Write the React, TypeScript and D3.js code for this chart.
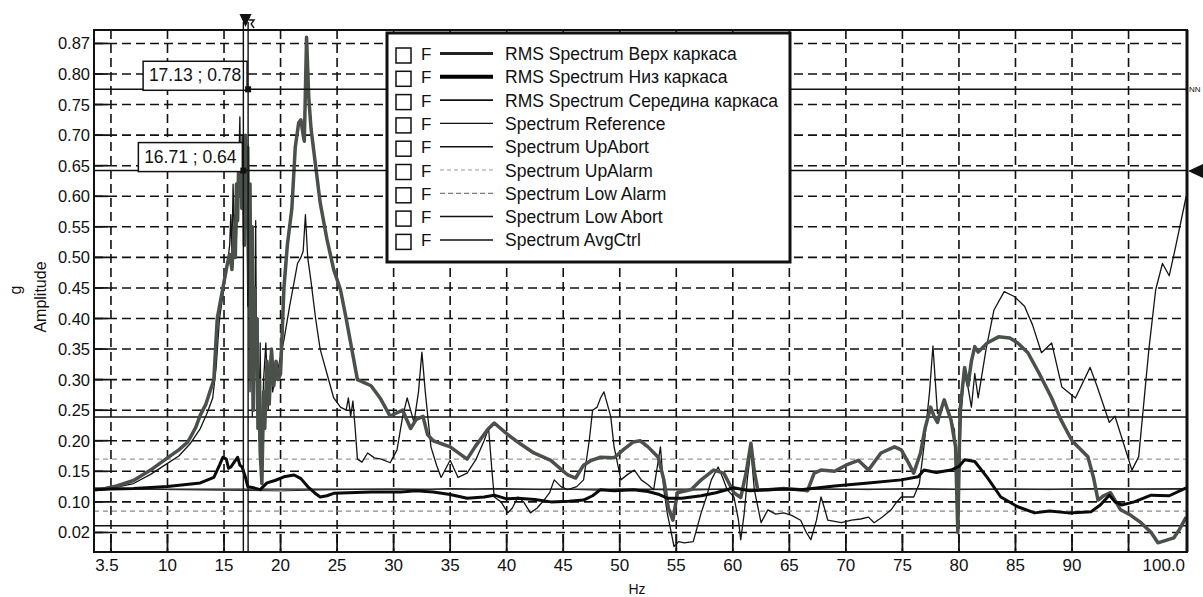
import React from 'react'
import * as d3 from 'd3'

// frequency (Hz) / amplitude (g) pairs
const verkh: [number, number][] = [
  [3.5, 0.12], [4.5, 0.122], [5.5, 0.126], [7, 0.135], [8.5, 0.152], [10, 0.172], [11, 0.185],
  [11.8, 0.198], [12.5, 0.222], [12.9, 0.242], [13.4, 0.26], [13.8, 0.283], [14.1, 0.3],
  [14.4, 0.4], [14.7, 0.43], [15, 0.46], [15.3, 0.49], [15.5, 0.505], [15.7, 0.48], [15.9, 0.55],
  [16.0, 0.5], [16.1, 0.62], [16.2, 0.56], [16.3, 0.66], [16.4, 0.6], [16.5, 0.68], [16.6, 0.58],
  [16.7, 0.66], [16.8, 0.52], [16.9, 0.7], [17.0, 0.55], [17.1, 0.68], [17.2, 0.45], [17.3, 0.62],
  [17.4, 0.3], [17.5, 0.55], [17.6, 0.25], [17.7, 0.45], [17.8, 0.35], [17.9, 0.4], [18.0, 0.22],
  [18.1, 0.3], [18.2, 0.18], [18.35, 0.13], [18.5, 0.28], [18.6, 0.22], [18.8, 0.33], [19.0, 0.26],
  [19.2, 0.35], [19.4, 0.29], [19.6, 0.33], [19.8, 0.3], [20, 0.31], [20.3, 0.45], [20.6, 0.52],
  [21.0, 0.58], [21.3, 0.68], [21.6, 0.72], [21.8, 0.725], [22.0, 0.7], [22.1, 0.69], [22.3, 0.86],
  [22.5, 0.76], [22.7, 0.71], [23.1, 0.65], [23.5, 0.59], [24.1, 0.53], [24.7, 0.48], [25.3, 0.447],
  [25.8, 0.4], [26.3, 0.35], [26.8, 0.3], [27.4, 0.295], [28, 0.29], [28.8, 0.27], [29.7, 0.24],
  [30.2, 0.245], [30.8, 0.25], [31.5, 0.22], [32.0, 0.235], [32.6, 0.24], [33.0, 0.21], [33.5, 0.2],
  [35, 0.19], [36.5, 0.17], [37.2, 0.19], [38.3, 0.218], [38.9, 0.229], [40.1, 0.21], [41.2, 0.195],
  [42.4, 0.18], [43.9, 0.168], [45.4, 0.144], [46.1, 0.139], [46.8, 0.16], [47.5, 0.168],
  [48.3, 0.173], [49.5, 0.172], [50.3, 0.185], [51.2, 0.198], [51.8, 0.2], [52.5, 0.19],
  [53.4, 0.173], [53.9, 0.136], [54.3, 0.09], [54.7, 0.07], [55.1, 0.115], [56.3, 0.12],
  [57.2, 0.136], [58.3, 0.152], [59.2, 0.147], [60.1, 0.115], [60.7, 0.107], [61.2, 0.15],
  [61.6, 0.196], [61.9, 0.15], [62.2, 0.12], [63.1, 0.12], [64.5, 0.122], [66, 0.12], [66.6, 0.118],
  [67.2, 0.147], [67.8, 0.152], [69, 0.15], [70, 0.16], [71.1, 0.168], [72, 0.152], [73.1, 0.18],
  [74.3, 0.19], [74.9, 0.185], [75.5, 0.165], [76, 0.147], [76.6, 0.18], [77, 0.22], [77.5, 0.255],
  [77.8, 0.24], [78.1, 0.23], [78.4, 0.25], [78.7, 0.267], [79.0, 0.25], [79.3, 0.234],
  [79.7, 0.19], [79.9, 0.05], [80.1, 0.25], [80.5, 0.32], [80.8, 0.29], [81.1, 0.33], [81.4, 0.354],
  [81.7, 0.345], [82.5, 0.36], [83.5, 0.37], [84.5, 0.368], [85.2, 0.36], [86.1, 0.344],
  [87.1, 0.31], [88.2, 0.27], [89, 0.235], [90, 0.2], [91.4, 0.174], [91.9, 0.14], [92.3, 0.103],
  [92.8, 0.11], [93.4, 0.115], [94.3, 0.087], [95.2, 0.078], [96.1, 0.066], [97, 0.05],
  [97.6, 0.033], [98.3, 0.037], [99, 0.041], [99.5, 0.055], [100.1, 0.075],
]

const niz: [number, number][] = [
  [3.5, 0.12], [5, 0.121], [7, 0.122], [10, 0.125], [12.9, 0.131], [14.1, 0.14], [14.6, 0.16],
  [14.9, 0.173], [15.2, 0.17], [15.4, 0.155], [15.6, 0.157], [15.9, 0.165], [16.2, 0.173],
  [16.4, 0.16], [16.6, 0.157], [16.9, 0.14], [17.1, 0.125], [17.6, 0.123], [18.2, 0.12],
  [18.8, 0.131], [19.5, 0.135], [20.3, 0.141], [21.2, 0.144], [21.8, 0.138], [22.4, 0.125],
  [23, 0.115], [23.5, 0.108], [24.1, 0.11], [24.7, 0.114], [26, 0.115], [28, 0.116], [30.6, 0.116],
  [32, 0.118], [33.5, 0.116], [35, 0.112], [36.5, 0.106], [38, 0.108], [38.9, 0.111], [40, 0.105],
  [41, 0.106], [42.5, 0.104], [43.9, 0.1], [45.5, 0.101], [46.8, 0.103], [47.6, 0.11], [48.3, 0.12],
  [49.5, 0.118], [51.2, 0.12], [52.5, 0.117], [53.5, 0.112], [54.2, 0.106], [55.5, 0.106],
  [57.2, 0.11], [58.5, 0.115], [60.1, 0.123], [61.5, 0.118], [63.1, 0.12], [64.5, 0.121], [66, 0.12],
  [69, 0.126], [72, 0.131], [74.9, 0.136], [76.4, 0.141], [76.9, 0.152], [78, 0.148], [79.3, 0.152],
  [80, 0.158], [80.5, 0.169], [81.4, 0.166], [82.5, 0.14], [83.7, 0.108], [85.2, 0.092],
  [86.7, 0.082], [88, 0.085], [89.7, 0.082], [91.7, 0.084], [92.5, 0.095], [93.3, 0.111],
  [93.8, 0.1], [94.4, 0.095], [95.5, 0.1], [97, 0.111], [98.6, 0.11], [100.1, 0.123],
]

const seredina: [number, number][] = [
  [3.5, 0.12], [5, 0.122], [7, 0.13], [8.5, 0.145], [10, 0.163], [11, 0.175], [12, 0.195],
  [12.9, 0.22], [13.5, 0.245], [14, 0.27], [14.3, 0.32], [14.6, 0.4], [15, 0.45], [15.3, 0.49],
  [15.5, 0.52], [15.6, 0.57], [15.7, 0.5], [15.8, 0.62], [15.9, 0.55], [16.0, 0.57], [16.1, 0.53],
  [16.2, 0.6], [16.3, 0.64], [16.4, 0.73], [16.5, 0.58], [16.6, 0.7], [16.7, 0.6], [16.8, 0.68],
  [16.9, 0.55], [17.0, 0.64], [17.1, 0.42], [17.2, 0.6], [17.3, 0.28], [17.4, 0.5], [17.5, 0.24],
  [17.6, 0.44], [17.7, 0.3], [17.8, 0.56], [17.9, 0.25], [18.0, 0.4], [18.1, 0.2], [18.2, 0.36],
  [18.3, 0.18], [18.5, 0.3], [18.7, 0.36], [18.9, 0.25], [19.1, 0.34], [19.3, 0.28], [19.5, 0.3],
  [19.8, 0.32], [20.3, 0.365], [20.8, 0.42], [21.2, 0.46], [21.5, 0.49], [21.8, 0.5], [22.0, 0.51],
  [22.2, 0.57], [22.4, 0.5], [22.7, 0.46], [23.1, 0.4], [23.5, 0.35], [24.1, 0.31], [24.7, 0.27],
  [25.3, 0.255], [25.8, 0.25], [26.0, 0.27], [26.2, 0.24], [26.4, 0.265], [26.6, 0.22], [26.8, 0.17],
  [27.2, 0.165], [27.7, 0.18], [28.3, 0.172], [28.9, 0.17], [29.7, 0.164], [30.3, 0.185],
  [30.8, 0.24], [31.2, 0.27], [31.5, 0.25], [31.8, 0.23], [32.2, 0.28], [32.5, 0.345], [32.8, 0.28],
  [33.3, 0.19], [33.8, 0.16], [34.2, 0.14], [35, 0.168], [35.7, 0.14], [36.5, 0.147], [37.3, 0.17],
  [38, 0.2], [38.4, 0.22], [38.7, 0.15], [38.9, 0.108], [39.5, 0.1], [40.1, 0.082], [40.5, 0.09],
  [41, 0.108], [41.5, 0.1], [42.1, 0.082], [42.7, 0.09], [43.3, 0.103], [43.8, 0.115], [44.2, 0.136],
  [44.8, 0.125], [45.4, 0.12], [46.2, 0.125], [46.8, 0.136], [47.3, 0.2], [47.6, 0.25], [48, 0.255],
  [48.3, 0.27], [48.6, 0.28], [49.2, 0.24], [49.5, 0.19], [50.1, 0.136], [50.7, 0.145],
  [51.3, 0.152], [51.9, 0.136], [52.5, 0.128], [53, 0.12], [53.6, 0.19], [53.9, 0.12], [54.2, 0.082],
  [54.8, 0.027], [55.2, 0.035], [55.7, 0.033], [56.5, 0.035], [57.2, 0.082], [57.7, 0.11],
  [58.1, 0.136], [58.7, 0.157], [59.1, 0.14], [59.5, 0.12], [60.1, 0.108], [60.5, 0.07],
  [60.7, 0.038], [61, 0.08], [61.3, 0.14], [61.6, 0.185], [61.9, 0.12], [62.5, 0.066], [63.1, 0.087],
  [63.8, 0.08], [64.5, 0.082], [65.2, 0.078], [66, 0.07], [66.5, 0.05], [66.9, 0.038], [67.4, 0.07],
  [67.8, 0.108], [68.1, 0.09], [68.4, 0.07], [69.6, 0.066], [70.5, 0.07], [71.3, 0.072], [72, 0.075],
  [72.5, 0.066], [73.2, 0.075], [74, 0.087], [74.5, 0.1], [74.9, 0.108], [76, 0.108], [76.5, 0.13],
  [76.9, 0.19], [77.4, 0.28], [77.7, 0.355], [78.1, 0.245], [78.4, 0.25], [78.7, 0.267], [79.0, 0.25],
  [79.6, 0.218], [79.9, 0.05], [80.2, 0.245], [80.5, 0.32], [81.1, 0.255], [81.4, 0.31], [81.7, 0.27],
  [82.4, 0.35], [83.1, 0.414], [84, 0.444], [84.9, 0.436], [85.8, 0.42], [86.5, 0.39], [87.3, 0.344],
  [88.2, 0.36], [89.1, 0.288], [90.3, 0.27], [91.6, 0.32], [92.2, 0.29], [93.3, 0.23], [93.8, 0.24],
  [95.3, 0.152], [95.9, 0.174], [96.8, 0.35], [97.4, 0.447], [98, 0.49], [98.6, 0.47], [99.1, 0.512],
  [100.1, 0.6],
]

const avgCtrl: [number, number][] = [
  [3.5, 0.123], [10, 0.12], [15, 0.119], [20, 0.118], [25, 0.12], [30, 0.121], [33, 0.12],
  [35, 0.122], [37, 0.121], [39, 0.122], [41, 0.121], [43, 0.12], [45, 0.121], [48, 0.119],
  [50, 0.121], [53, 0.12], [56, 0.119], [58, 0.12], [60, 0.121], [62, 0.119], [65, 0.12],
  [68, 0.121], [72, 0.12], [76, 0.122], [80, 0.12], [84, 0.121], [88, 0.12], [92, 0.122],
  [96, 0.121], [100.1, 0.122],
]

// flat limit levels
const reference = 0.121
const upAbort = 0.239
const upAlarm = 0.17
const lowAlarm = 0.085
const lowAbort = 0.061

const cursorFreqs = [17.13, 16.71]
const cursorAmps = [0.775, 0.642]
const cursorLabels = ['17.13 ; 0.78', '16.71 ; 0.64']

const xTicks = [5, 10, 15, 20, 25, 30, 35, 40, 45, 50, 55, 60, 65, 70, 75, 80, 85, 90]
const xTickLabels = ['3.5', '10', '15', '20', '25', '30', '35', '40', '45', '50', '55', '60', '65', '70', '75', '80', '85', '90']
const xGrid = [5, 10, 15, 20, 25, 30, 35, 40, 45, 50, 55, 60, 65, 70, 75, 80, 85, 90, 95]
const yTicks = [0.05, 0.1, 0.15, 0.2, 0.25, 0.3, 0.35, 0.4, 0.45, 0.5, 0.55, 0.6, 0.65, 0.7, 0.75, 0.8, 0.85]
const yTickLabels = ['0.02', '0.10', '0.15', '0.20', '0.25', '0.30', '0.35', '0.40', '0.45', '0.50', '0.55', '0.60', '0.65', '0.70', '0.75', '0.80', '0.87']

const legendNames = [
  'RMS Spectrum Верх каркаса',
  'RMS Spectrum Низ каркаса',
  'RMS Spectrum Середина каркаса',
  'Spectrum Reference',
  'Spectrum UpAbort',
  'Spectrum UpAlarm',
  'Spectrum Low Alarm',
  'Spectrum Low Abort',
  'Spectrum AvgCtrl',
]

const legendStyles = [
  { stroke: '#222', width: 3.2, dash: undefined },
  { stroke: '#000', width: 4, dash: undefined },
  { stroke: '#111', width: 1.6, dash: undefined },
  { stroke: '#111', width: 1.2, dash: undefined },
  { stroke: '#111', width: 1.4, dash: undefined },
  { stroke: '#999', width: 1.1, dash: '4,3' },
  { stroke: '#777', width: 1.3, dash: '5,3' },
  { stroke: '#111', width: 1.5, dash: undefined },
  { stroke: '#111', width: 1.5, dash: undefined },
]

const FONT = '"Liberation Sans", Arial, sans-serif'

export default function App() {
  const left = 94
  const right = 1187
  const top = 30
  const bottom = 552
  const x = d3.scaleLinear().domain([3.5, 100.17]).range([left, right])
  const y = d3.scaleLinear().domain([0.018, 0.872]).range([bottom, top])
  const line = d3.line<[number, number]>().x(d => x(d[0])).y(d => y(d[1]))

  const levels = [
    { v: upAbort, stroke: '#111', w: 1.5, dash: undefined },
    { v: upAlarm, stroke: '#999', w: 1.2, dash: '5,4' },
    { v: reference, stroke: '#111', w: 1.3, dash: undefined },
    { v: lowAlarm, stroke: '#888', w: 1.2, dash: '5,4' },
    { v: lowAbort, stroke: '#111', w: 1.5, dash: undefined },
  ]

  const legX = 387
  const legY = 33
  const rowY = (i: number) => 53.5 + i * 23.3

  return (
    <svg width={1203} height={597} style={{ position: 'absolute', left: 0, top: 0, background: '#fff' }} fontFamily={FONT}>
      <defs>
        <clipPath id="plot">
          <rect x={left} y={top} width={right - left} height={bottom - top} />
        </clipPath>
      </defs>
      <rect x={0} y={0} width={1203} height={597} fill="#fff" />

      {/* grid */}
      {yTicks.map(v => (
        <line key={'gy' + v} x1={left} x2={right} y1={y(v)} y2={y(v)} stroke="#111" strokeWidth={1.6} strokeDasharray="9,5" />
      ))}
      {xGrid.map(v => (
        <line key={'gx' + v} x1={x(v)} x2={x(v)} y1={top} y2={bottom} stroke="#111" strokeWidth={1.6} strokeDasharray="9,5" />
      ))}
      {yTicks.map(v => (
        <line key={'ty' + v} x1={left} x2={left + 14} y1={y(v)} y2={y(v)} stroke="#111" strokeWidth={1.8} />
      ))}
      {xGrid.map(v => (
        <line key={'tx' + v} x1={x(v)} x2={x(v)} y1={bottom} y2={bottom - 18} stroke="#111" strokeWidth={1.8} />
      ))}

      {/* limit levels and spectra */}
      <g clipPath="url(#plot)">
        {levels.map((l, i) => (
          <line key={'lv' + i} x1={left} x2={right} y1={y(l.v)} y2={y(l.v)} stroke={l.stroke} strokeWidth={l.w} strokeDasharray={l.dash} />
        ))}
        <path d={line(avgCtrl) || ''} fill="none" stroke="#222" strokeWidth={1} />
        <path d={line(seredina) || ''} fill="none" stroke="#151515" strokeWidth={1.3} strokeLinejoin="round" />
        <path d={line(verkh) || ''} fill="none" stroke="#4a504a" strokeWidth={3.5} strokeLinejoin="round" />
        <path d={line(niz) || ''} fill="none" stroke="#0a0a0a" strokeWidth={3} strokeLinejoin="round" />
      </g>

      {/* cursors */}
      {cursorFreqs.map((f, i) => (
        <g key={'cur' + i}>
          <line x1={left} x2={right} y1={y(cursorAmps[i])} y2={y(cursorAmps[i])} stroke="#111" strokeWidth={1.5} />
          <line x1={x(f)} x2={x(f)} y1={22} y2={bottom} stroke="#111" strokeWidth={1.4} />
          <rect x={x(f) - 1 - 104} y={y(cursorAmps[i]) + 1 - 29} width={104} height={29} fill="#fff" stroke="#111" strokeWidth={1.5} />
          <text x={x(f) - 1 - 52} y={y(cursorAmps[i]) - 8} textAnchor="middle" fontSize={17.5} fill="#111">
            {cursorLabels[i]}
          </text>
          <rect x={x(f) - 3} y={y(cursorAmps[i]) - 3} width={6} height={6} fill="#111" />
        </g>
      ))}
      <path d={`M${x(16.9) - 6},14 L${x(16.9) + 6},14 L${x(16.9)},27 Z`} fill="#111" />
      <path d={`M${x(17.13) + 1},20 L${x(17.13) + 6},20 L${x(17.13) + 3},24 L${x(17.13) + 6},28`} fill="none" stroke="#111" strokeWidth={1.3} />
      <path d={`M1203,164 L1188,171 L1203,178 Z`} fill="#111" />
      <text x={1189} y={92} fontSize={8} fill="#111">NN</text>

      {/* frame */}
      <rect x={left} y={top} width={right - left} height={bottom - top} fill="none" stroke="#111" strokeWidth={2} />
      <line x1={right} x2={right} y1={top} y2={bottom} stroke="#111" strokeWidth={3} />

      {/* axis labels */}
      {yTicks.map((v, i) => (
        <text key={'yl' + v} x={90} y={y(v) + 6} textAnchor="end" fontSize={16.5} fill="#111">
          {yTickLabels[i]}
        </text>
      ))}
      {xTicks.map((v, i) => (
        <text key={'xl' + v} x={x(v) - (i === 0 ? 4 : 0)} y={571} textAnchor="middle" fontSize={17} fill="#111">
          {xTickLabels[i]}
        </text>
      ))}
      <text x={x(100)} y={571} textAnchor="end" fontSize={17} fill="#111">100.0</text>
      <text x={637} y={594} textAnchor="middle" fontSize={14} fill="#111">Hz</text>
      <text transform="translate(46,297) rotate(-90)" textAnchor="middle" fontSize={16} fill="#111">Amplitude</text>
      <text transform="translate(21,290) rotate(-90)" textAnchor="middle" fontSize={16} fill="#111">g</text>

      {/* legend */}
      <rect x={legX} y={legY} width={403} height={229} fill="#fff" stroke="#111" strokeWidth={3} />
      {legendNames.map((name, i) => (
        <g key={'lg' + i}>
          <rect x={396} y={rowY(i) - 5.5} width={15} height={15} fill="#fff" stroke="#111" strokeWidth={1.5} />
          <text x={421} y={rowY(i) + 6.5} fontSize={17} fill="#111">F</text>
          <line x1={440} x2={493} y1={rowY(i)} y2={rowY(i)} stroke={legendStyles[i].stroke} strokeWidth={legendStyles[i].width} strokeDasharray={legendStyles[i].dash} />
          <text x={505} y={rowY(i) + 6.5} fontSize={17.5} fill="#111">{name}</text>
        </g>
      ))}
    </svg>
  )
}
